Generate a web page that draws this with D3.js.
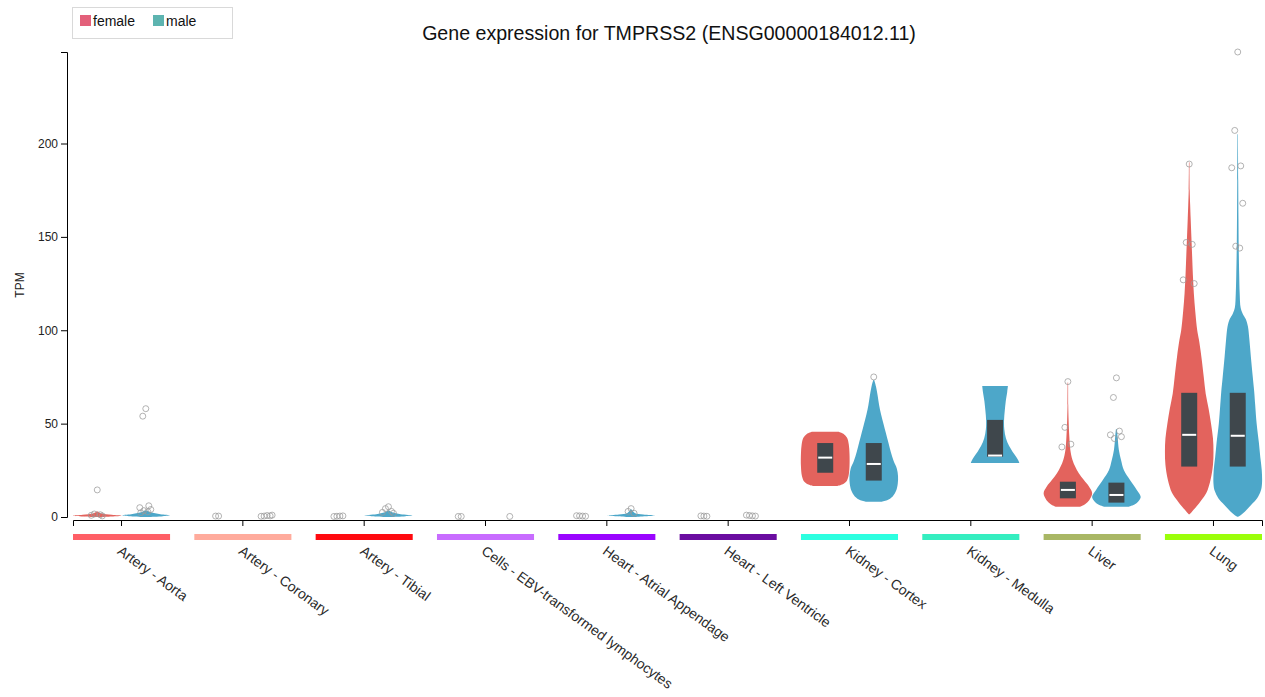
<!DOCTYPE html>
<html>
<head>
<meta charset="utf-8">
<script src="https://cdn.jsdelivr.net/npm/d3@7"></script>
<style>
  html, body { margin: 0; padding: 0; background: #fff; }
  svg { display: block; font-family: "Liberation Sans", Arial, sans-serif; }
</style>
</head>
<body>
<svg id="chart" width="1265" height="697"></svg>
<script>
// ---- data -----------------------------------------------------------
const tissues = [
  "Artery - Aorta", "Artery - Coronary", "Artery - Tibial",
  "Cells - EBV-transformed lymphocytes", "Heart - Atrial Appendage",
  "Heart - Left Ventricle", "Kidney - Cortex", "Kidney - Medulla",
  "Liver", "Lung"
];
const tissueColors = [
  "#ff5f66", "#ffab9c", "#ff0a0f", "#c86cff", "#9a05ff",
  "#6a0da0", "#2cffe0", "#34eec0", "#a9b765", "#9bff0a"
];
const sexes = ["female", "male"];
const sexViolinColors = ["#e3635d", "#4da7c9"];
const sexLegendColors = ["#e3607a", "#5db4b0"];
const yTicks = [0, 50, 100, 150, 200];

// violin outlines: [TPM, relative half-width]
const aortaFemaleProfile = [[0, 0.15], [0.3, 0.6], [0.7, 1], [1.2, 0.6], [2, 0.15], [3, 0.03]];
const aortaMaleProfile = [[0, 0.15], [0.4, 0.7], [0.9, 1], [1.5, 0.6], [2.5, 0.2], [3.5, 0.04]];
const tibialMaleProfile = [[0, 0.15], [0.4, 0.7], [0.9, 1], [1.5, 0.5], [2.5, 0.15], [3.5, 0.03]];
const atrialMaleProfile = [[0, 0.15], [0.4, 0.6], [0.8, 1], [1.4, 0.5], [2.2, 0.15], [4, 0.03]];
const cortexFemaleProfile = [[16.6, 0.5], [17.5, 0.72], [19, 0.87], [22, 0.96], [27, 1], [34, 1],
  [39, 0.97], [42.5, 0.9], [44.5, 0.76], [45.7, 0.55]];
const cortexMaleProfile = [[8.2, 0.3], [9, 0.55], [11, 0.78], [14, 0.92], [18, 0.99], [22, 1],
  [26, 0.95], [30, 0.82], [35, 0.7], [40, 0.6], [45, 0.5], [50, 0.4], [55, 0.3], [60, 0.22],
  [65, 0.16], [70, 0.09], [73.4, 0.02]];
const medullaMaleProfile = [[28.9, 1], [30, 0.97], [32, 0.88], [35, 0.72], [38, 0.58], [42, 0.45],
  [47, 0.38], [52, 0.37], [57, 0.4], [62, 0.44], [67, 0.5], [70.2, 0.53]];
const liverFemaleProfile = [[5.5, 0.5], [7, 0.72], [9, 0.88], [12.7, 1], [16.3, 0.87], [19.8, 0.66],
  [23.4, 0.45], [27, 0.3], [30.5, 0.19], [36, 0.1], [43, 0.06], [52, 0.03], [60, 0.015], [72, 0.01]];
const liverMaleProfile = [[5.5, 0.5], [7, 0.78], [9, 0.94], [10.9, 1], [14.5, 0.84], [19.8, 0.56],
  [25, 0.31], [30.5, 0.19], [36, 0.1], [43, 0.05], [47, 0.02]];
const lungFemaleProfile = [[1.5, 0.02], [3, 0.12], [5.5, 0.29], [9, 0.5], [13, 0.71], [20, 0.88],
  [28, 0.98], [35, 1], [42, 0.98], [50, 0.9], [58, 0.8], [66, 0.68], [75, 0.6], [86, 0.5],
  [95, 0.4], [100, 0.33], [110, 0.25], [120, 0.19], [130, 0.15], [140, 0.12], [150, 0.09],
  [160, 0.06], [167, 0.04], [175, 0.02], [190, 0.01]];
const lungMaleProfile = [[0.2, 0.02], [1, 0.12], [3, 0.3], [6.4, 0.55], [10, 0.8], [14, 0.95],
  [18, 1], [25, 0.99], [32, 0.93], [40, 0.87], [50, 0.78], [60, 0.72], [67, 0.68], [75, 0.62],
  [86, 0.54], [95, 0.48], [102, 0.42], [106, 0.33], [109, 0.2], [112, 0.12], [120, 0.08],
  [130, 0.06], [145, 0.04], [160, 0.03], [180, 0.02], [205, 0.01]];

const violins = [
  ["Artery - Aorta", "female", aortaFemaleProfile],
  ["Artery - Aorta", "male", aortaMaleProfile],
  ["Artery - Tibial", "male", tibialMaleProfile],
  ["Heart - Atrial Appendage", "male", atrialMaleProfile],
  ["Kidney - Cortex", "female", cortexFemaleProfile],
  ["Kidney - Cortex", "male", cortexMaleProfile],
  ["Kidney - Medulla", "male", medullaMaleProfile],
  ["Liver", "female", liverFemaleProfile],
  ["Liver", "male", liverMaleProfile],
  ["Lung", "female", lungFemaleProfile],
  ["Lung", "male", lungMaleProfile]
];

// quartile boxes: tissue, sex, q1, median, q3
const boxes = [
  ["Kidney - Cortex", "female", 23.7, 31.8, 39.6],
  ["Kidney - Cortex", "male", 19.5, 28.4, 39.6],
  ["Kidney - Medulla", "male", 32.3, 32.9, 52],
  ["Liver", "female", 10, 14.5, 18.9],
  ["Liver", "male", 7.7, 11.8, 18.4],
  ["Lung", "female", 27, 44, 66.5],
  ["Lung", "male", 27, 43.5, 66.5]
];

// outlying samples (TPM)
const outliers = [
  ["Artery - Aorta", "female", [14.5, 1.6, 1.2, 0.9, 0.6]],
  ["Artery - Aorta", "male", [58, 54, 6, 5, 4, 3.4, 2.8, 2.3]],
  ["Artery - Coronary", "female", [0.5, 0.5]],
  ["Artery - Coronary", "male", [0.8, 0.5, 0.6, 0.4, 1.0]],
  ["Artery - Tibial", "female", [0.5, 0.4, 0.6, 0.3]],
  ["Artery - Tibial", "male", [5.5, 4.5, 3, 2.5, 2]],
  ["Cells - EBV-transformed lymphocytes", "female", [0.3, 0.3]],
  ["Cells - EBV-transformed lymphocytes", "male", [0.3]],
  ["Heart - Atrial Appendage", "female", [0.5, 0.6, 0.4, 0.7]],
  ["Heart - Atrial Appendage", "male", [4.5, 3, 2]],
  ["Heart - Left Ventricle", "female", [0.5, 0.6, 0.4]],
  ["Heart - Left Ventricle", "male", [0.6, 0.8, 0.5, 1.0]],
  ["Kidney - Cortex", "male", [75]],
  ["Liver", "female", [72.5, 48, 39, 37.5]],
  ["Liver", "male", [74.5, 64, 46, 44, 43, 42]],
  ["Lung", "female", [189, 147, 146, 127, 125]],
  ["Lung", "male", [249, 207, 188, 187, 168, 145, 144]]
];

// ---- layout -----------------------------------------------------------
const svg = d3.select("#chart");
const axisY = 520, yBottom = 517, yTop = 52;

const x = d3.scaleBand().domain(tissues).range([73, 1262]).paddingInner(0.2).paddingOuter(0);
const xSex = d3.scaleBand().domain(sexes).range([0, x.bandwidth()]);
const maxVal = d3.max(outliers, d => d3.max(d[2]));
const y = d3.scaleLinear().domain([0, maxVal]).range([yBottom, yTop]);
const halfW = xSex.bandwidth() / 2;
const centerOf = (t, s) => x(t) + xSex(s) + xSex.bandwidth() / 2;
const sexColor = s => sexViolinColors[sexes.indexOf(s)];

// title
svg.append("text")
  .attr("x", 669).attr("y", 40)
  .attr("text-anchor", "middle")
  .attr("font-size", 19.6).attr("fill", "#111")
  .text("Gene expression for TMPRSS2 (ENSG00000184012.11)");

// legend
const legend = svg.append("g");
legend.append("rect").attr("x", 72.5).attr("y", 7.5).attr("width", 160).attr("height", 31)
  .attr("fill", "#fff").attr("stroke", "#d9d9d9");
const lx = [80, 153];
sexes.forEach((s, i) => {
  legend.append("rect").attr("x", lx[i]).attr("y", 15).attr("width", 11).attr("height", 11)
    .attr("fill", sexLegendColors[i]);
  legend.append("text").attr("x", lx[i] + 13).attr("y", 26)
    .attr("font-size", 14).attr("fill", "#111").text(s);
});

// y axis
const yAxis = svg.append("g").attr("transform", "translate(67,0)")
  .call(d3.axisLeft(y).tickValues(yTicks).tickSize(6).tickSizeOuter(6));
yAxis.selectAll("text").attr("font-size", 12).attr("fill", "#222")
  .attr("font-family", "Liberation Sans, Arial, sans-serif");
svg.append("text")
  .attr("transform", "translate(24,285) rotate(-90)")
  .attr("text-anchor", "middle").attr("font-size", 12).attr("fill", "#222").text("TPM");

// x axis (centres only, names drawn below colour strips)
svg.append("g").attr("transform", `translate(0,${axisY})`)
  .call(d3.axisBottom(x).tickSize(6).tickSizeOuter(6).tickFormat(""));

// tissue colour strips
svg.append("g").selectAll("rect").data(tissues).join("rect")
  .attr("x", d => x(d)).attr("y", 534)
  .attr("width", x.bandwidth()).attr("height", 6)
  .attr("fill", (d, i) => tissueColors[i]);

// tissue names
svg.append("g").selectAll("text").data(tissues).join("text")
  .attr("transform", d => `translate(${x(d) + x.bandwidth() / 2 - 5},553) rotate(36)`)
  .attr("font-size", 14).attr("fill", "#2a2a2a")
  .attr("text-anchor", "start")
  .text(d => d);

// violins
const area = d3.area()
  .curve(d3.curveCatmullRom)
  .y(d => y(d[0]));
svg.append("g").selectAll("path").data(violins).join("path")
  .attr("d", ([t, s, prof]) => {
    const c = centerOf(t, s);
    return area.x0(d => c - d[1] * halfW).x1(d => c + d[1] * halfW)(prof);
  })
  .attr("fill", d => sexColor(d[1]));

// boxes with medians
const boxW = 16;
const boxG = svg.append("g");
boxG.selectAll("rect").data(boxes).join("rect")
  .attr("x", d => centerOf(d[0], d[1]) - boxW / 2)
  .attr("width", boxW)
  .attr("y", d => y(d[4]))
  .attr("height", d => y(d[2]) - y(d[4]))
  .attr("fill", "#3f474c");
boxG.selectAll("line").data(boxes).join("line")
  .attr("x1", d => centerOf(d[0], d[1]) - boxW / 2 + 1)
  .attr("x2", d => centerOf(d[0], d[1]) + boxW / 2 - 1)
  .attr("y1", d => y(d[3])).attr("y2", d => y(d[3]))
  .attr("stroke", "#fff").attr("stroke-width", 2);

// outlier points, spread a little around the violin centre
const spread = [0, -3, 3, -6, 5, -2, 2, -5];
const pts = outliers.flatMap(([t, s, vals]) =>
  vals.map((v, i) => ({ cx: centerOf(t, s) + spread[i % spread.length], v })));
svg.append("g").selectAll("circle").data(pts).join("circle")
  .attr("cx", d => d.cx).attr("cy", d => y(d.v)).attr("r", 3)
  .attr("fill", "none").attr("stroke", "#9a9a9a").attr("stroke-opacity", 0.75);
</script>
</body>
</html>
